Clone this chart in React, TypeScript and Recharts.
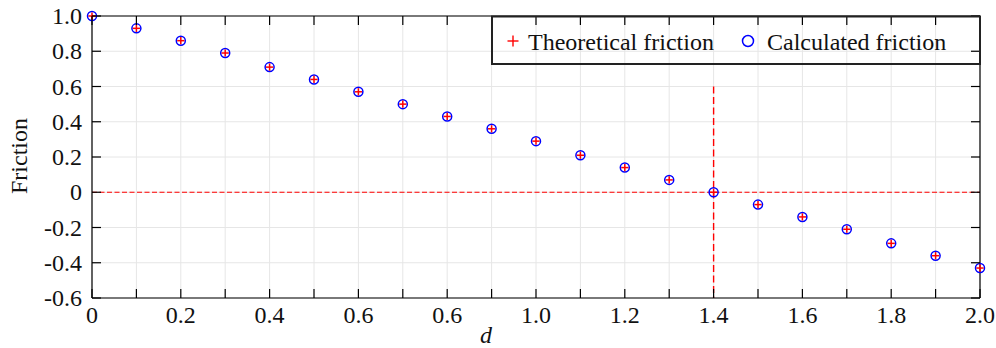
import React from "react";
import {
  ComposedChart,
  Scatter,
  XAxis,
  YAxis,
  CartesianGrid,
  ReferenceLine,
} from "recharts";

const W = 996;
const H = 348;
const FONT = "'Liberation Serif', 'Times New Roman', serif";

// d values along the x axis
const dValues = [0, 0.1, 0.2, 0.3, 0.4, 0.5, 0.6, 0.7, 0.8, 0.9, 1.0, 1.1, 1.2, 1.3, 1.4, 1.5, 1.6, 1.7, 1.8, 1.9, 2.0];
const theoretical = [1.0, 0.93, 0.86, 0.79, 0.71, 0.64, 0.57, 0.5, 0.43, 0.36, 0.29, 0.21, 0.14, 0.07, 0.0, -0.07, -0.14, -0.21, -0.29, -0.36, -0.43];
const calculated = [1.0, 0.93, 0.86, 0.79, 0.71, 0.64, 0.57, 0.5, 0.43, 0.36, 0.29, 0.21, 0.14, 0.07, 0.0, -0.07, -0.14, -0.21, -0.29, -0.36, -0.43];

const xTicks = [0, 0.1, 0.2, 0.3, 0.4, 0.5, 0.6, 0.7, 0.8, 0.9, 1.0, 1.1, 1.2, 1.3, 1.4, 1.5, 1.6, 1.7, 1.8, 1.9, 2.0];
// labels on every other tick, as printed in the figure
const xTickLabels = ["0", "0.2", "0.4", "0.6", "0.6", "1.0", "1.2", "1.4", "1.6", "1.8", "2.0"];
const yTicks = [1.0, 0.8, 0.6, 0.4, 0.2, 0, -0.2, -0.4, -0.6];
const yTickLabels = ["1.0", "0.8", "0.6", "0.4", "0.2", "0", "-0.2", "-0.4", "-0.6"];

const rows = dValues.map((d, i) => ({ d, theo: theoretical[i], calc: calculated[i] }));

const TICK_LEN = 9;
const textStyle = { fontFamily: FONT, fontSize: 24, fill: "#111" };

function BottomTick({ x, y, payload }: any) {
  const i = Math.round(payload.value * 10);
  const lbl = i % 2 === 0 ? xTickLabels[i / 2] : null;
  return (
    <g>
      <line x1={x} y1={y} x2={x} y2={y - TICK_LEN} stroke="#000" strokeWidth={1.2} />
      {lbl != null && (
        <text x={x} y={y + 25} textAnchor="middle" style={textStyle}>
          {lbl}
        </text>
      )}
    </g>
  );
}

function TopTick({ x, y }: any) {
  return <line x1={x} y1={y} x2={x} y2={y + TICK_LEN} stroke="#000" strokeWidth={1.2} />;
}

function LeftTick({ x, y, payload }: any) {
  const i = yTicks.findIndex((v) => Math.abs(v - payload.value) < 1e-9);
  return (
    <g>
      <line x1={x} y1={y} x2={x + TICK_LEN} y2={y} stroke="#000" strokeWidth={1.2} />
      <text x={x - 10} y={y + 8} textAnchor="end" style={textStyle}>
        {i >= 0 ? yTickLabels[i] : ""}
      </text>
    </g>
  );
}

function RightTick({ x, y }: any) {
  return <line x1={x} y1={y} x2={x - TICK_LEN} y2={y} stroke="#000" strokeWidth={1.2} />;
}

function CircleMark({ cx, cy }: any) {
  return <circle cx={cx} cy={cy} r={4.5} fill="none" stroke="#0000ff" strokeWidth={1.5} />;
}

function PlusMark({ cx, cy }: any) {
  const s = 3.6;
  return (
    <g stroke="#ff0000" strokeWidth={1.5}>
      <line x1={cx - s} y1={cy} x2={cx + s} y2={cy} />
      <line x1={cx} y1={cy - s} x2={cx} y2={cy + s} />
    </g>
  );
}

export default function App() {
  return (
    <div style={{ position: "relative", width: W, height: H, background: "#fff" }}>
      <style>{"body{margin:0}"}</style>
      <ComposedChart
        width={W}
        height={H}
        data={rows}
        margin={{ top: 15, right: 15, bottom: 49, left: 91 }}
      >
        <CartesianGrid stroke="#e6e6e6" strokeWidth={1} />
        <XAxis
          dataKey="d"
          type="number"
          domain={[0, 2]}
          ticks={xTicks}
          interval={0}
          height={1}
          tickSize={0}
          tickMargin={0}
          tickLine={false}
          axisLine={{ stroke: "#000", strokeWidth: 1.2 }}
          tick={<BottomTick />}
        />
        <XAxis
          xAxisId="top"
          dataKey="d"
          orientation="top"
          type="number"
          domain={[0, 2]}
          ticks={xTicks}
          interval={0}
          height={1}
          tickSize={0}
          tickMargin={0}
          tickLine={false}
          axisLine={{ stroke: "#000", strokeWidth: 1.2 }}
          tick={<TopTick />}
        />
        <YAxis
          type="number"
          domain={[-0.6, 1.0]}
          ticks={yTicks}
          interval={0}
          width={1}
          tickSize={0}
          tickMargin={0}
          tickLine={false}
          axisLine={{ stroke: "#000", strokeWidth: 1.2 }}
          tick={<LeftTick />}
        />
        <YAxis
          yAxisId="right"
          orientation="right"
          type="number"
          domain={[-0.6, 1.0]}
          ticks={yTicks}
          interval={0}
          width={1}
          tickSize={0}
          tickMargin={0}
          tickLine={false}
          axisLine={{ stroke: "#000", strokeWidth: 1.2 }}
          tick={<RightTick />}
        />
        <ReferenceLine y={0} stroke="#ff0000" strokeWidth={1.2} strokeDasharray="5 2.5" />
        <ReferenceLine
          segment={[
            { x: 1.4, y: 0.6 },
            { x: 1.4, y: -0.6 },
          ]}
          stroke="#ff0000"
          strokeWidth={1.4}
          strokeDasharray="7 3.5"
        />
        <Scatter dataKey="calc" shape={<CircleMark />} isAnimationActive={false} />
        <Scatter
          dataKey="theo"
          xAxisId="top"
          yAxisId="right"
          shape={<PlusMark />}
          isAnimationActive={false}
        />
      </ComposedChart>

      <svg
        width={W}
        height={H}
        style={{ position: "absolute", left: 0, top: 0, pointerEvents: "none" }}
      >
        <rect x={492} y={16.5} width={488} height={47.5} fill="none" stroke="#222" strokeWidth={2} />
        <g stroke="#ff0000" strokeWidth={1.4}>
          <line x1={507.5} y1={41} x2={518.5} y2={41} />
          <line x1={513} y1={35.5} x2={513} y2={46.5} />
        </g>
        <text x={528} y={50} style={textStyle}>
          Theoretical friction
        </text>
        <circle cx={748} cy={41} r={5.5} fill="none" stroke="#0000ff" strokeWidth={1.5} />
        <text x={767} y={50} style={textStyle}>
          Calculated friction
        </text>

        <text x={486} y={343} textAnchor="middle" style={{ ...textStyle, fontStyle: "italic" }}>
          d
        </text>
        <text x={27} y={156} textAnchor="middle" style={textStyle} transform="rotate(-90, 27, 156)">
          Friction
        </text>
      </svg>
    </div>
  );
}
